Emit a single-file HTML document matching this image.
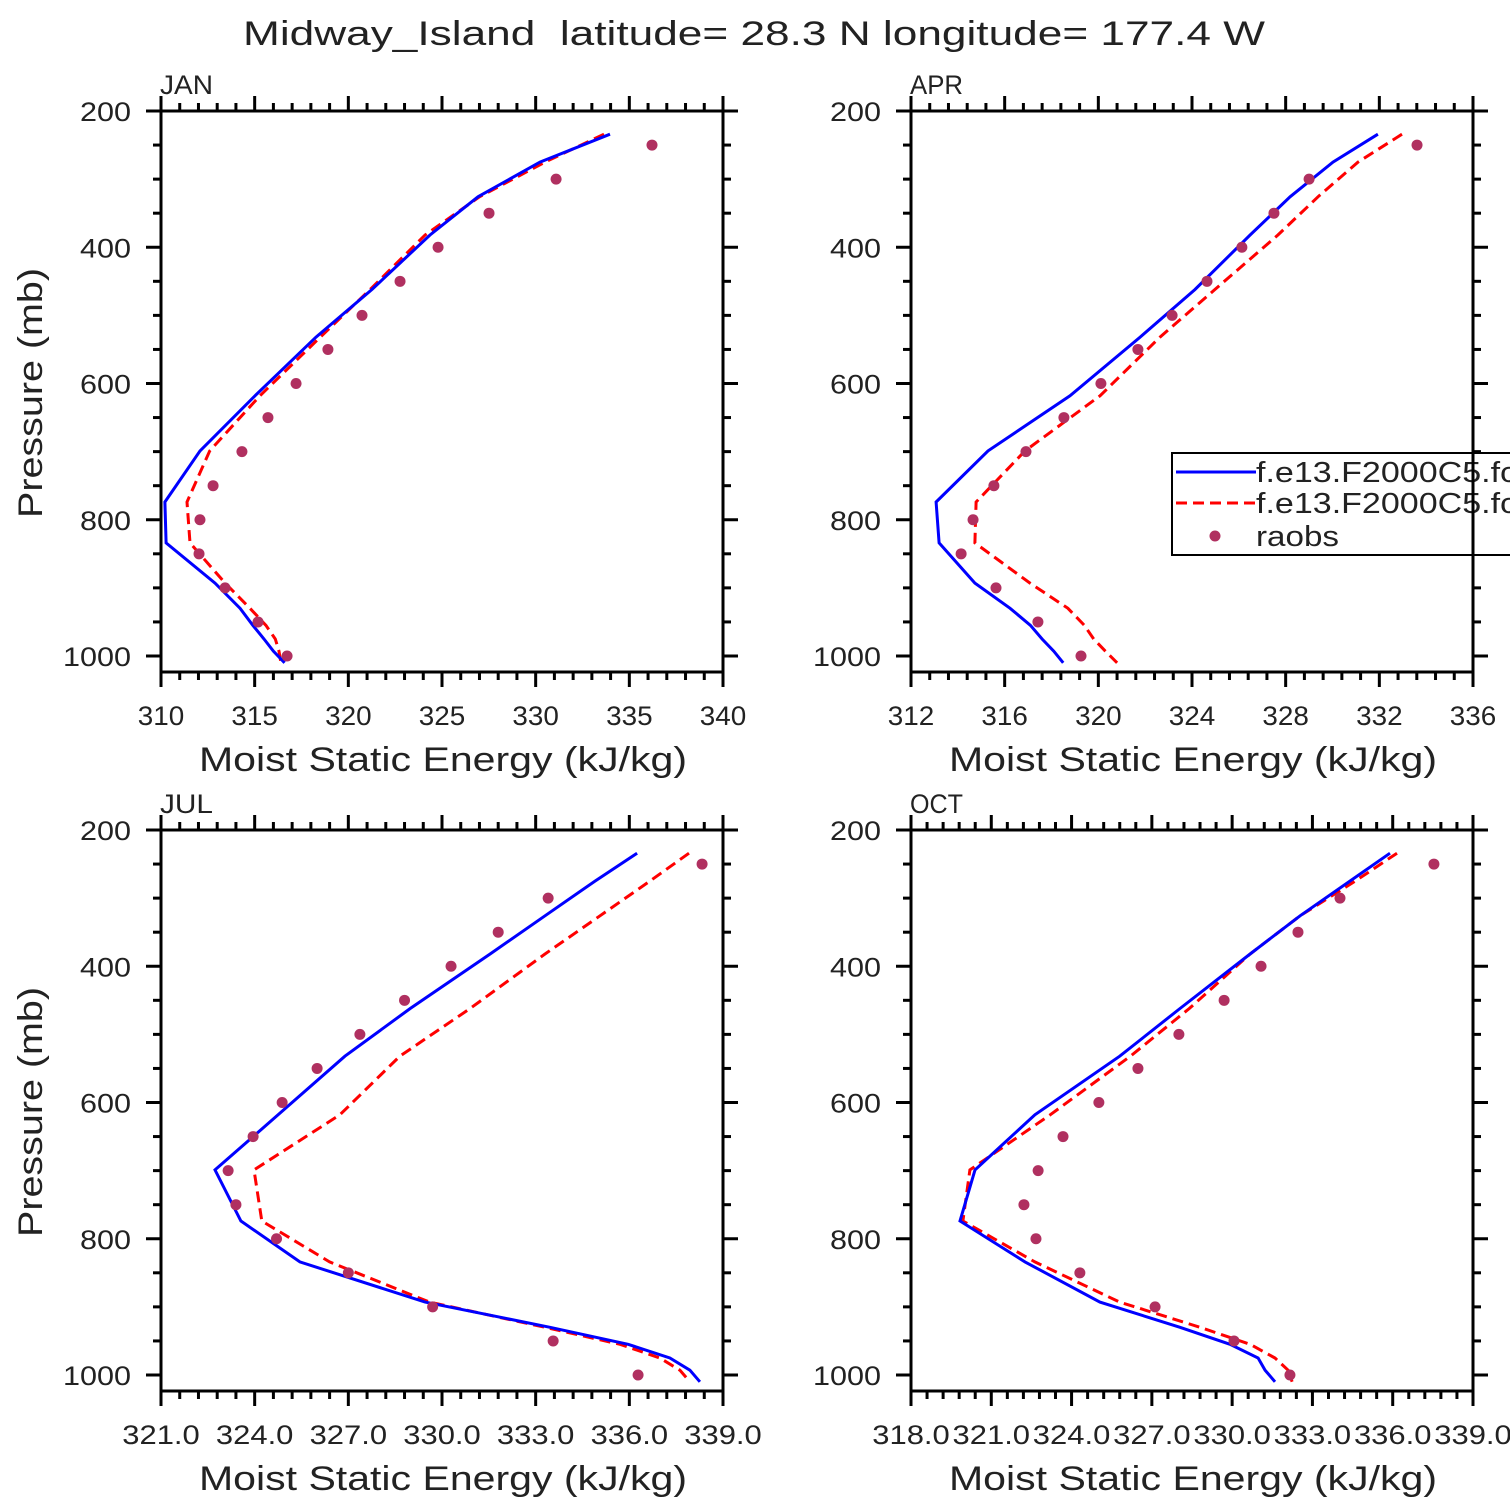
<!DOCTYPE html>
<html><head><meta charset="utf-8"><style>body{margin:0;background:#fff}svg{display:block;font-family:"Liberation Sans","DejaVu Sans",sans-serif}</style></head>
<body>
<svg id="chart" width="1510" height="1510" viewBox="0 0 1510 1510">
<text x="243" y="45" textLength="1022" lengthAdjust="spacingAndGlyphs" font-size="34" fill="#222" xml:space="preserve">Midway_Island  latitude= 28.3 N longitude= 177.4 W</text>
</svg>
<script>
const levels=[234,275,326,382,462,532,618,699,774,834,893,930,955,975,993,1010];
const obsLevels=[250,300,350,400,450,500,550,600,650,700,750,800,850,900,950,1000];
const yTicks=[200,400,600,800,1000];
const janBlue=[333.97,330.23,326.92,324.36,321.26,318.27,315.02,312.08,310.21,310.27,312.88,314.22,314.9,315.5,316.0,316.6];
const janRed=[333.65,330.5,327.0,324.1,321.16,318.5,315.28,312.6,311.39,311.55,313.42,314.75,315.6,316.1,316.3,316.4];
const janObs=[336.21,331.09,327.51,324.79,322.76,320.73,318.91,317.21,315.71,314.32,312.78,312.08,312.03,313.42,315.18,316.73];
const janTicks=["310","315","320","325","330","335","340"];
const aprBlue=[331.94,330.02,328.19,326.48,324.13,321.78,318.79,315.29,313.07,313.2,314.73,316.23,317.1,317.6,318.1,318.5];
const aprRed=[332.97,331.09,329.38,327.67,324.98,322.63,320.07,316.87,314.78,314.73,317.08,318.7,319.4,319.8,320.3,320.8];
const aprObs=[333.61,329.0,327.5,326.13,324.64,323.15,321.69,320.11,318.53,316.91,315.54,314.65,314.14,315.63,317.42,319.26];
const aprTicks=["312","316","320","324","328","332","336"];
const julBlue=[336.25,334.9,333.3,331.54,328.98,326.89,324.75,322.73,323.56,325.45,329.46,333.46,335.96,337.3,337.94,338.26];
const julRed=[337.91,336.66,335.06,333.3,330.9,328.65,326.73,323.98,324.23,326.4,329.6,333.3,335.7,336.98,337.62,337.94];
const julObs=[338.33,333.4,331.8,330.29,328.8,327.37,326.0,324.88,323.95,323.15,323.4,324.7,327.0,329.7,333.56,336.28];
const julTicks=["321.0","324.0","327.0","330.0","333.0","336.0","339.0"];
const octBlue=[335.9,334.4,332.54,330.67,328.05,325.8,322.63,320.39,319.83,322.26,325.06,328.05,329.92,330.97,331.23,331.6];
const octRed=[336.16,334.6,332.54,330.67,328.4,326.2,323.2,320.2,319.94,322.63,325.8,328.8,330.67,331.6,332.09,332.24];
const octObs=[337.54,334.03,332.46,331.08,329.7,328.01,326.48,325.02,323.68,322.75,322.22,322.67,324.31,327.12,330.07,332.16];
const octTicks=["318.0","321.0","324.0","327.0","330.0","333.0","336.0","339.0"];

const svg=document.getElementById('chart');
const NS='http://www.w3.org/2000/svg';
function mk(tag,attrs,parent){const e=document.createElementNS(NS,tag);for(const k in attrs)e.setAttribute(k,attrs[k]);(parent||svg).appendChild(e);return e;}
const charW=17;

const panels=[
 {name:'jan',label:'JAN',x0:161,y0:111,min:310,max:340,ticks:janTicks,minor:5,blue:janBlue,red:janRed,obs:janObs},
 {name:'apr',label:'APR',x0:911,y0:111,min:312,max:336,ticks:aprTicks,minor:5,blue:aprBlue,red:aprRed,obs:aprObs},
 {name:'jul',label:'JUL',x0:161,y0:830,min:321,max:339,ticks:julTicks,minor:5,blue:julBlue,red:julRed,obs:julObs},
 {name:'oct',label:'OCT',x0:911,y0:830,min:318,max:339,ticks:octTicks,minor:5,blue:octBlue,red:octRed,obs:octObs}
];
const W=562,H=561;
panels.forEach((P,pi)=>{
 const g=mk('g',{});
 
 
 const xs=v=>P.x0+(v-P.min)/(P.max-P.min)*W;
 const ys=p=>P.y0+(p-200)*0.68125;
 const lbl=mk('text',{x:P.x0-1,y:P.y0-17,'font-size':27,fill:'#222',textLength:53,lengthAdjust:'spacingAndGlyphs'},g);lbl.textContent=P.label;
 
 
 const nT=P.ticks.length-1;
 for(let i=0;i<=nT*P.minor;i++){
  const x=P.x0+i*W/(nT*P.minor);const maj=i%P.minor===0;const L=maj?15:8;
  mk('line',{x1:x,x2:x,y1:P.y0,y2:P.y0-L,stroke:'#000','stroke-width':3},g);
  mk('line',{x1:x,x2:x,y1:P.y0+H,y2:P.y0+H+L,stroke:'#000','stroke-width':3},g);
 }
 P.ticks.forEach((t,i)=>{const tx=mk('text',{x:P.x0+i*W/nT,y:P.y0+H+53,'font-size':27,'text-anchor':'middle',fill:'#222',textLength:t.length*15.5,lengthAdjust:'spacingAndGlyphs'},g);tx.textContent=t;
  
  });
 for(let p=200;p<=1000;p+=50){const y=ys(p);const maj=p%200===0;const L=maj?15:8;
  mk('line',{x1:P.x0,x2:P.x0-L,y1:y,y2:y,stroke:'#000','stroke-width':3},g);
  mk('line',{x1:P.x0+W,x2:P.x0+W+L,y1:y,y2:y,stroke:'#000','stroke-width':3},g);}
 yTicks.forEach(p=>{const s=String(p);const tx=mk('text',{x:P.x0-30,y:ys(p)+10,'font-size':27,'text-anchor':'end',fill:'#222',textLength:s.length*17,lengthAdjust:'spacingAndGlyphs'},g);tx.textContent=s;
  
  });
 mk('rect',{x:P.x0,y:P.y0,width:W,height:H,fill:'none',stroke:'#000','stroke-width':3},g);
 const xt=mk('text',{x:P.x0+38,y:P.y0+H+99,'font-size':34,fill:'#222',textLength:488,lengthAdjust:'spacingAndGlyphs'},g);xt.textContent='Moist Static Energy (kJ/kg)';
 
 
 if(pi%2===0){const yt=mk('text',{x:0,y:0,'font-size':34,'text-anchor':'middle',fill:'#222',textLength:250,lengthAdjust:'spacingAndGlyphs',transform:`translate(42,${P.y0+282}) rotate(-90)`},g);yt.textContent='Pressure (mb)';
  
  }
 const pts=a=>a.map((v,i)=>xs(v).toFixed(1)+','+ys(levels[i]).toFixed(1)).join(' ');
 const r=mk('polyline',{points:pts(P.red),fill:'none',stroke:'#ff0000','stroke-width':3,'stroke-dasharray':'11,6'},g);
 
 
 const b=mk('polyline',{points:pts(P.blue),fill:'none',stroke:'#0000ff','stroke-width':3},g);
 
 
 P.obs.forEach((v,i)=>{const c=mk('circle',{cx:xs(v),cy:ys(obsLevels[i]),r:5.5,fill:'#b03060'},g);
  
  });
});
const lg=mk('g',{});


mk('rect',{x:1172,y:453,width:345,height:102,fill:'#fff',stroke:'#000','stroke-width':2},lg);
mk('line',{x1:1176,x2:1256,y1:472,y2:472,stroke:'#0000ff','stroke-width':3},lg);
mk('line',{x1:1176,x2:1256,y1:503,y2:503,stroke:'#ff0000','stroke-width':3,'stroke-dasharray':'11,6'},lg);
mk('circle',{cx:1215,cy:536,r:5.5,fill:'#b03060'},lg);
[['f.e13.F2000C5.fc5',482,280],['f.e13.F2000C5.fc5',513,280],['raobs',546,83]].forEach(([t,y,w])=>{const tx=mk('text',{x:1256,y:y,'font-size':29,fill:'#222',textLength:w,lengthAdjust:'spacingAndGlyphs'},lg);tx.textContent=t;
 
 });
mk('line',{x1:1473,x2:1473,y1:445,y2:560,stroke:'#000','stroke-width':3});
</script>
</body></html>
